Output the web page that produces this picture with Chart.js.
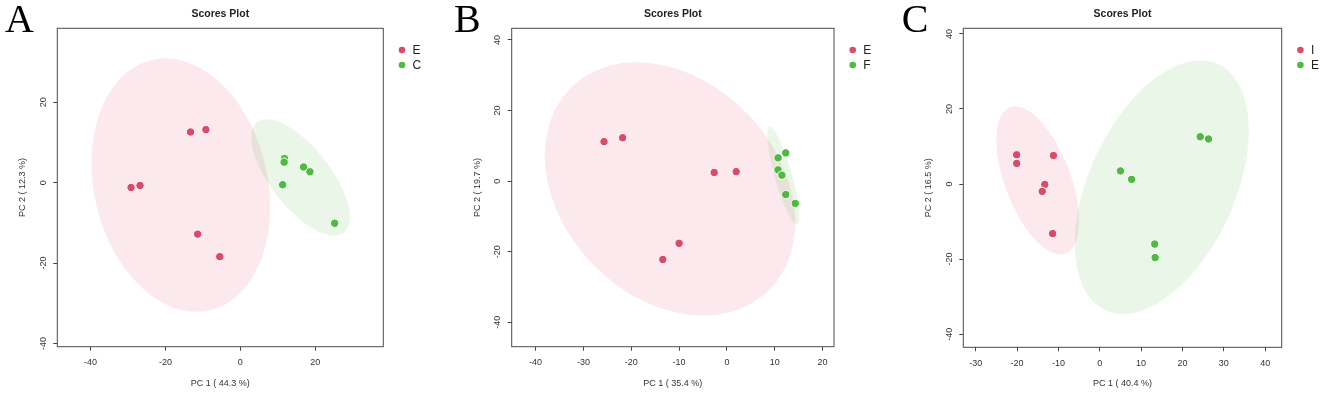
<!DOCTYPE html>
<html>
<head>
<meta charset="utf-8">
<script src="https://cdn.jsdelivr.net/npm/chart.js@4.4.1/dist/chart.umd.min.js"></script>
<style>
  html, body { margin: 0; padding: 0; background: #ffffff; }
  #wrap { position: relative; width: 1325px; height: 395px; }
  canvas { position: absolute; top: 0; }
</style>
</head>
<body>
<div id="wrap">
  <canvas id="chartA" width="440" height="395" style="left:0px"></canvas>
  <canvas id="chartB" width="440" height="395" style="left:440px"></canvas>
  <canvas id="chartC" width="445" height="395" style="left:880px"></canvas>
</div>
<script>
// Panel A: E vs C
const aE_pc1 = [-13.3, -9.2, -29.2, -26.8, -11.4, -5.5];
const aE_pc2 = [12.6, 13.2, -1.2, -0.7, -12.8, -18.4];
const aC_pc1 = [11.8, 11.7, 16.9, 18.6, 11.3, 25.2];
const aC_pc2 = [6.0, 5.1, 3.9, 2.7, -0.5, -10.1];
// ellipses: centre pc1, centre pc2, semi-axis a, semi-axis b, angle (deg)
const aE_ellipse = [-15.9, -0.6, 32.1, 23.1, 105.8];
const aC_ellipse = [16.1, 1.3, 18.0, 7.75, 131];
const aXRange = [-48.9, 38.2];
const aYRange = [-40.8, 38.4];
const aXTicks = [-40, -20, 0, 20];
const aYTicks = [-40, -20, 0, 20];

// Panel B: E vs F
const bE_pc1 = [-25.7, -21.8, -2.65, 1.95, -10.0, -13.4];
const bE_pc2 = [11.2, 12.3, 2.45, 2.7, -17.6, -22.2];
const bF_pc1 = [12.3, 10.7, 10.7, 11.5, 12.3, 14.3];
const bF_pc2 = [8.0, 6.6, 3.2, 1.7, -3.8, -6.3];
const bE_ellipse = [-11.9, -2.2, 37.1, 24.4, 109.8];
const bF_ellipse = [11.8, 1.56, 14.1, 1.82, 101.6];
const bXRange = [-45.0, 22.4];
const bYRange = [-46.9, 43.3];
const bXTicks = [-40, -30, -20, -10, 0, 10, 20];
const bYTicks = [-40, -20, 0, 20, 40];

// Panel C: I vs E
const cI_pc1 = [-20.1, -20.1, -11.2, -13.3, -13.9, -11.4];
const cI_pc2 = [7.8, 5.5, 7.6, -0.1, -1.95, -13.2];
const cE_pc1 = [24.3, 26.3, 5.0, 7.7, 13.3, 13.4];
const cE_pc2 = [12.6, 12.0, 3.5, 1.25, -16.0, -19.6];
const cI_ellipse = [-15.0, 1.0, 20.6, 8.04, 108.3];
const cE_ellipse = [15.0, -0.85, 35.55, 17.9, 68.9];
const cXRange = [-33.0, 44.0];
const cYRange = [-43.5, 41.5];
const cXTicks = [-30, -20, -10, 0, 10, 20, 30, 40];
const cYTicks = [-40, -20, 0, 20, 40];

const RED = '#DA4B6B';
const GREEN = '#4FB941';
const RED_FILL = 'rgba(218, 75, 107, 0.12)';
const GREEN_FILL = 'rgba(79, 185, 65, 0.12)';
const H = 395;

Chart.defaults.font.family = "'Liberation Sans', Arial, sans-serif";
Chart.defaults.color = '#333333';

// confidence ellipses, drawn in data units through the chart scales
const ellipsePlugin = {
    id: 'ellipses',
    beforeDatasetsDraw(chart, args, opts) {
        const { ctx, chartArea: ca, scales: { x, y } } = chart;
        const kx = x.getPixelForValue(1) - x.getPixelForValue(0);
        const ky = y.getPixelForValue(0) - y.getPixelForValue(1);
        ctx.save();
        ctx.beginPath();
        ctx.rect(ca.left, ca.top, ca.width, ca.height);
        ctx.clip();
        opts.items.forEach((e) => {
            const [cx, cy, a, b, deg] = e.shape;
            ctx.save();
            ctx.translate(x.getPixelForValue(cx), y.getPixelForValue(cy));
            ctx.scale(kx, -ky);
            ctx.rotate(deg * Math.PI / 180);
            ctx.beginPath();
            ctx.ellipse(0, 0, a, b, 0, 0, Math.PI * 2);
            ctx.restore();
            ctx.fillStyle = e.fill;
            ctx.fill();
        });
        ctx.restore();
    }
};

// box around the plot, legend at the right, panel letter
const framePlugin = {
    id: 'frame',
    afterDraw(chart, args, opts) {
        const { ctx, chartArea: ca } = chart;
        ctx.save();
        ctx.strokeStyle = '#4a4a4a';
        ctx.lineWidth = 1;
        ctx.strokeRect(ca.left, ca.top, ca.right - ca.left, ca.bottom - ca.top);

        const lx = ca.right + 18.7;
        chart.data.datasets.forEach((ds, i) => {
            const ly = 50 + i * 15;
            ctx.beginPath();
            ctx.arc(lx, ly, 3.3, 0, Math.PI * 2);
            ctx.fillStyle = ds.backgroundColor;
            ctx.fill();
            ctx.fillStyle = '#222222';
            ctx.font = "12px 'Liberation Sans', Arial, sans-serif";
            ctx.textAlign = 'left';
            ctx.textBaseline = 'middle';
            ctx.fillText(ds.label, lx + 10.5, ly + 0.5);
        });

        ctx.fillStyle = '#000000';
        ctx.font = "40px 'Liberation Serif', 'Times New Roman', serif";
        ctx.textAlign = 'left';
        ctx.textBaseline = 'alphabetic';
        ctx.fillText(opts.letter, opts.letterX, 31.7);
        ctx.restore();
    }
};

function puntos(xs, ys) {
    return xs.map((v, i) => ({ x: v, y: ys[i] }));
}

function crearPanel(id, frame, xRange, yRange, xTicks, yTicks, xTitle, yTitle, grupos) {
    const ctx = document.getElementById(id).getContext('2d');
    return new Chart(ctx, {
        type: 'scatter',
        data: {
            datasets: grupos.map((g) => ({
                label: g.label,
                data: puntos(g.xs, g.ys),
                backgroundColor: g.color,
                borderColor: '#ffffff',
                borderWidth: 1,
                pointRadius: 4.2,
                pointHoverRadius: 4.2
            }))
        },
        plugins: [ellipsePlugin, framePlugin],
        options: {
            responsive: false,
            animation: false,
            events: [],
            layout: { padding: { left: 0, right: frame.W - frame.r, top: 0, bottom: 0 } },
            scales: {
                x: {
                    type: 'linear',
                    min: xRange[0],
                    max: xRange[1],
                    afterBuildTicks: (s) => { s.ticks = xTicks.map((v) => ({ value: v })); },
                    afterFit: (s) => { s.height = H - frame.b; },
                    grid: { drawOnChartArea: false, drawTicks: true, tickLength: 4, tickColor: '#444444' },
                    border: { display: false },
                    ticks: {
                        autoSkip: false, maxRotation: 0, padding: 6.5, color: '#333333',
                        font: { size: 9 },
                        callback: (v) => String(v)
                    },
                    title: {
                        display: true, text: xTitle, color: '#333333', font: { size: 9 },
                        padding: { top: 0, bottom: H - (frame.b + 36.5) - 5.4 }
                    }
                },
                y: {
                    type: 'linear',
                    min: yRange[0],
                    max: yRange[1],
                    afterBuildTicks: (s) => { s.ticks = yTicks.map((v) => ({ value: v })); },
                    afterFit: (s) => { s.width = frame.l; },
                    grid: { drawOnChartArea: false, drawTicks: true, tickLength: 4, tickColor: '#444444' },
                    border: { display: false },
                    ticks: {
                        autoSkip: false, minRotation: 90, maxRotation: 90, crossAlign: 'center',
                        padding: 3.5, color: '#333333', font: { size: 9 },
                        callback: (v) => String(v)
                    },
                    title: {
                        display: true, text: yTitle, color: '#333333', font: { size: 9 },
                        padding: { top: frame.l - 34.5 - 5.4, bottom: 0 }
                    }
                }
            },
            plugins: {
                legend: { display: false },
                tooltip: { enabled: false },
                title: {
                    display: true, text: 'Scores Plot', fullSize: false, color: '#222222',
                    font: { size: 10.5, weight: 'bold' },
                    padding: { top: 7.4, bottom: 8.3 }
                },
                ellipses: { items: grupos.map((g) => ({ shape: g.ellipse, fill: g.fill })) },
                frame: { letter: frame.letter, letterX: frame.letterX }
            }
        }
    });
}

crearPanel('chartA',
    { l: 57.3, r: 383.3, b: 346.7, W: 440, letter: 'A', letterX: 5 },
    aXRange, aYRange, aXTicks, aYTicks, 'PC 1 ( 44.3 %)', 'PC 2 ( 12.3 %)',
    [
        { label: 'E', xs: aE_pc1, ys: aE_pc2, ellipse: aE_ellipse, color: RED, fill: RED_FILL },
        { label: 'C', xs: aC_pc1, ys: aC_pc2, ellipse: aC_ellipse, color: GREEN, fill: GREEN_FILL }
    ]);

crearPanel('chartB',
    { l: 71.7, r: 394, b: 346.7, W: 440, letter: 'B', letterX: 14 },
    bXRange, bYRange, bXTicks, bYTicks, 'PC 1 ( 35.4 %)', 'PC 2 ( 19.7 %)',
    [
        { label: 'E', xs: bE_pc1, ys: bE_pc2, ellipse: bE_ellipse, color: RED, fill: RED_FILL },
        { label: 'F', xs: bF_pc1, ys: bF_pc2, ellipse: bF_ellipse, color: GREEN, fill: GREEN_FILL }
    ]);

crearPanel('chartC',
    { l: 83.3, r: 401.7, b: 347.3, W: 445, letter: 'C', letterX: 21.7 },
    cXRange, cYRange, cXTicks, cYTicks, 'PC 1 ( 40.4 %)', 'PC 2 ( 16.5 %)',
    [
        { label: 'I', xs: cI_pc1, ys: cI_pc2, ellipse: cI_ellipse, color: RED, fill: RED_FILL },
        { label: 'E', xs: cE_pc1, ys: cE_pc2, ellipse: cE_ellipse, color: GREEN, fill: GREEN_FILL }
    ]);
</script>
</body>
</html>
